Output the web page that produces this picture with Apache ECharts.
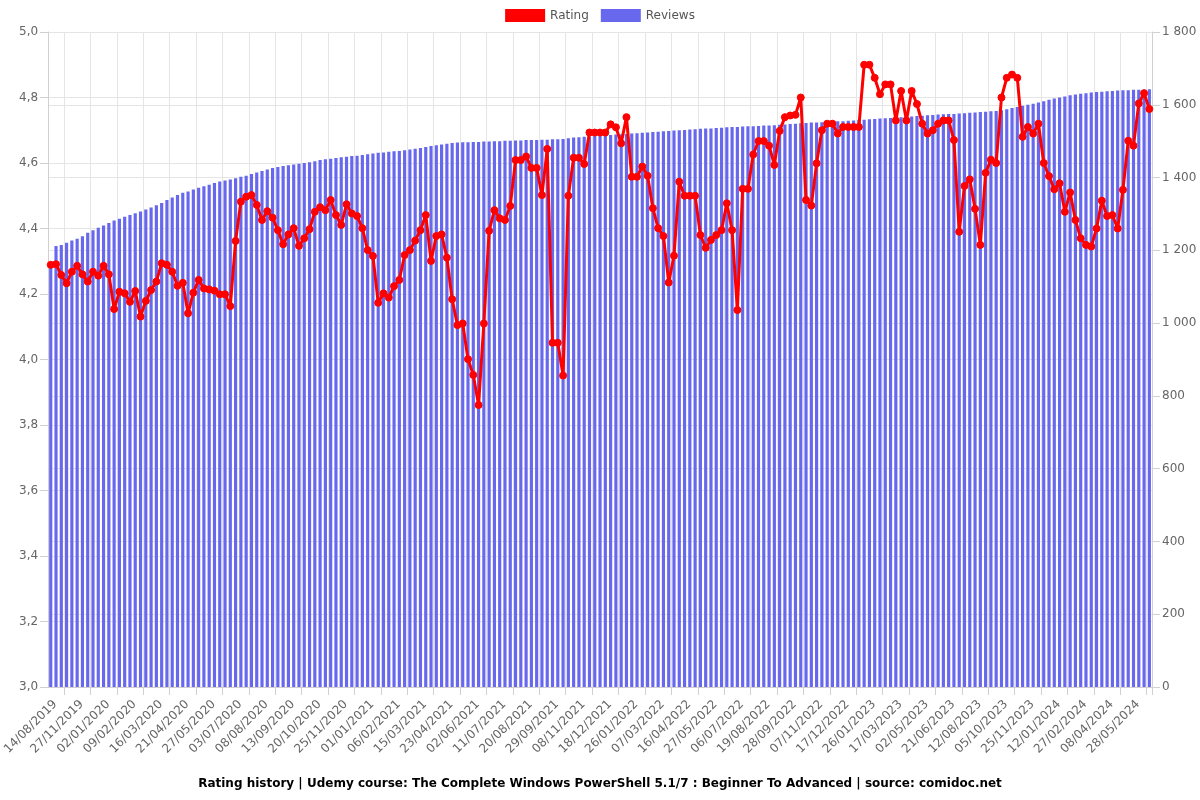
<!DOCTYPE html>
<html><head><meta charset="utf-8">
<script src="https://cdn.jsdelivr.net/npm/echarts@6/dist/echarts.min.js"></script>
<style>html,body{margin:0;padding:0;background:#fff}#c{width:1200px;height:800px}</style>
</head><body><div id="c"></div>
<script>
var dates = [
"24/07/2019","31/07/2019","07/08/2019","14/08/2019","04/09/2019","25/09/2019","16/10/2019","06/11/2019","27/11/2019",
"04/12/2019","11/12/2019","18/12/2019","25/12/2019","02/01/2020",
"09/01/2020","16/01/2020","23/01/2020","31/01/2020","09/02/2020",
"16/02/2020","23/02/2020","01/03/2020","08/03/2020","16/03/2020",
"23/03/2020","30/03/2020","06/04/2020","13/04/2020","21/04/2020",
"28/04/2020","05/05/2020","12/05/2020","19/05/2020","27/05/2020",
"03/06/2020","10/06/2020","17/06/2020","25/06/2020","03/07/2020",
"10/07/2020","17/07/2020","24/07/2020","31/07/2020","08/08/2020",
"15/08/2020","22/08/2020","29/08/2020","05/09/2020","13/09/2020",
"20/09/2020","27/09/2020","04/10/2020","12/10/2020","20/10/2020",
"27/10/2020","03/11/2020","10/11/2020","17/11/2020","25/11/2020",
"02/12/2020","09/12/2020","16/12/2020","24/12/2020","01/01/2021",
"08/01/2021","15/01/2021","22/01/2021","29/01/2021","06/02/2021",
"13/02/2021","20/02/2021","27/02/2021","06/03/2021","15/03/2021",
"22/03/2021","29/03/2021","06/04/2021","14/04/2021","23/04/2021",
"30/04/2021","08/05/2021","16/05/2021","24/05/2021","02/06/2021",
"09/06/2021","17/06/2021","25/06/2021","03/07/2021","11/07/2021",
"19/07/2021","27/07/2021","04/08/2021","12/08/2021","20/08/2021",
"28/08/2021","05/09/2021","13/09/2021","21/09/2021","29/09/2021",
"07/10/2021","15/10/2021","23/10/2021","31/10/2021","08/11/2021",
"16/11/2021","24/11/2021","02/12/2021","10/12/2021","18/12/2021",
"26/12/2021","02/01/2022","10/01/2022","18/01/2022","26/01/2022",
"03/02/2022","11/02/2022","19/02/2022","27/02/2022","07/03/2022",
"15/03/2022","23/03/2022","31/03/2022","08/04/2022","16/04/2022",
"24/04/2022","02/05/2022","10/05/2022","18/05/2022","27/05/2022",
"04/06/2022","12/06/2022","20/06/2022","28/06/2022","06/07/2022",
"15/07/2022","24/07/2022","02/08/2022","10/08/2022","19/08/2022",
"27/08/2022","04/09/2022","12/09/2022","20/09/2022","28/09/2022",
"06/10/2022","14/10/2022","22/10/2022","30/10/2022","07/11/2022",
"15/11/2022","23/11/2022","01/12/2022","09/12/2022","17/12/2022",
"25/12/2022","02/01/2023","10/01/2023","18/01/2023","26/01/2023",
"05/02/2023","15/02/2023","25/02/2023","07/03/2023","17/03/2023",
"26/03/2023","04/04/2023","14/04/2023","23/04/2023","02/05/2023",
"12/05/2023","22/05/2023","01/06/2023","11/06/2023","21/06/2023",
"01/07/2023","11/07/2023","22/07/2023","02/08/2023","12/08/2023",
"23/08/2023","03/09/2023","14/09/2023","24/09/2023","05/10/2023",
"15/10/2023","25/10/2023","04/11/2023","14/11/2023","25/11/2023",
"04/12/2023","14/12/2023","24/12/2023","03/01/2024","12/01/2024",
"21/01/2024","30/01/2024","08/02/2024","18/02/2024","27/02/2024",
"05/03/2024","13/03/2024","22/03/2024","30/03/2024","08/04/2024",
"17/04/2024","26/04/2024","06/05/2024","17/05/2024","28/05/2024"
];
var rating = [
4.289,4.291,4.258,4.233,4.268,4.286,4.260,4.238,4.268,4.256,
4.286,4.260,4.154,4.207,4.202,4.176,4.209,4.131,4.179,4.212,
4.238,4.294,4.289,4.268,4.225,4.234,4.141,4.204,4.243,4.217,
4.214,4.210,4.199,4.199,4.163,4.362,4.482,4.497,4.502,4.472,
4.426,4.453,4.433,4.395,4.352,4.382,4.401,4.347,4.370,4.398,
4.451,4.465,4.456,4.487,4.441,4.411,4.474,4.446,4.438,4.401,
4.334,4.316,4.173,4.202,4.189,4.224,4.243,4.319,4.334,4.363,
4.395,4.441,4.301,4.377,4.382,4.311,4.184,4.105,4.110,4.001,
3.953,3.861,4.110,4.393,4.456,4.431,4.426,4.469,4.609,4.609,
4.620,4.585,4.585,4.502,4.643,4.051,4.051,3.951,4.500,4.616,
4.616,4.597,4.693,4.693,4.693,4.693,4.718,4.709,4.660,4.740,
4.558,4.558,4.589,4.561,4.462,4.401,4.377,4.235,4.317,4.543,
4.500,4.500,4.500,4.380,4.341,4.365,4.380,4.395,4.477,4.395,
4.151,4.521,4.521,4.626,4.667,4.667,4.653,4.594,4.698,4.740,
4.745,4.747,4.800,4.487,4.470,4.599,4.700,4.720,4.720,4.690,
4.710,4.710,4.710,4.710,4.900,4.900,4.860,4.810,4.840,4.840,
4.730,4.820,4.730,4.820,4.780,4.720,4.690,4.700,4.720,4.730,
4.730,4.670,4.390,4.530,4.550,4.460,4.350,4.570,4.610,4.600,
4.800,4.860,4.870,4.860,4.680,4.710,4.690,4.720,4.600,4.560,
4.520,4.538,4.451,4.510,4.426,4.370,4.350,4.345,4.400,4.485,
4.438,4.441,4.400,4.518,4.668,4.653,4.782,4.813,4.765
];
var reviews = [
1160,1212,1215,1221,1227,1232,1239,1248,1255,1262,
1268,1275,1282,1287,1292,1297,1302,1307,1312,1318,
1324,1330,1338,1345,1352,1358,1362,1367,1372,1376,
1380,1385,1389,1392,1395,1398,1402,1405,1410,1414,
1418,1422,1426,1429,1432,1434,1436,1438,1440,1442,
1445,1448,1450,1452,1454,1456,1457,1459,1460,1462,
1464,1466,1468,1469,1471,1472,1473,1475,1477,1479,
1481,1484,1487,1489,1491,1493,1495,1496,1497,1497,
1498,1498,1499,1499,1500,1500,1501,1501,1502,1502,
1503,1503,1503,1504,1504,1505,1505,1506,1508,1510,
1511,1512,1513,1514,1515,1516,1517,1518,1519,1520,
1521,1522,1523,1524,1525,1526,1527,1528,1529,1530,
1531,1532,1533,1534,1535,1535,1536,1537,1538,1539,
1539,1540,1541,1541,1542,1543,1543,1544,1545,1546,
1547,1548,1549,1550,1551,1551,1552,1553,1554,1555,
1555,1556,1557,1558,1559,1560,1561,1562,1563,1564,
1565,1566,1567,1568,1569,1570,1571,1572,1573,1574,
1575,1575,1576,1577,1578,1579,1580,1581,1582,1583,
1585,1588,1591,1594,1597,1600,1603,1606,1610,1614,
1617,1620,1623,1626,1628,1630,1632,1634,1635,1636,
1637,1638,1639,1640,1640,1641,1641,1642,1643
];
var titleText = "Rating history | Udemy course: The Complete Windows PowerShell 5.1/7 : Beginner To Advanced | source: comidoc.net";
var labelEvery = function (i) { return i % 5 === 3; };
var FONT = "DejaVu Sans";
var gridColor = "#e5e5e5";
var chart = echarts.init(document.getElementById('c'), null, {renderer: 'canvas'});
chart.setOption({
  animation: false,
  backgroundColor: '#fff',
  textStyle: {fontFamily: FONT},
  title: {text: titleText, left: 'center', bottom: 5,
    textStyle: {fontFamily: FONT, fontSize: 12, fontWeight: 'bold', color: '#000'}},
  legend: {top: 4, left: 'center', itemWidth: 40, itemHeight: 13, itemGap: 12,
    textStyle: {fontFamily: FONT, fontSize: 12, color: '#555'},
    data: [{name: 'Rating', icon: 'rect'}, {name: 'Reviews', icon: 'rect'}]},
  grid: {left: 46, right: 48, top: 32, bottom: 113, containLabel: false},
  xAxis: {type: 'category', data: dates, boundaryGap: true,
    axisLine: {lineStyle: {color: '#d0d0d0'}},
    axisTick: {show: true, interval: labelEvery, length: 8, lineStyle: {color: '#d0d0d0'}},
    splitLine: {show: true, interval: labelEvery, lineStyle: {color: gridColor}},
    axisLabel: {interval: labelEvery, rotate: 45, color: '#666', fontFamily: FONT, fontSize: 12,
      margin: 4, padding: [0, 16, 0, 0]}},
  yAxis: [
    {type: 'value', min: 3, max: 5, interval: 0.2, position: 'left',
      axisLine: {show: true, lineStyle: {color: '#d0d0d0'}},
      axisTick: {show: true, length: 8, lineStyle: {color: '#d0d0d0'}},
      splitLine: {show: true, lineStyle: {color: gridColor}},
      axisLabel: {color: '#666', fontFamily: FONT, fontSize: 12, margin: 10,
        formatter: function (v) { return v.toFixed(1).replace('.', ','); }}},
    {type: 'value', min: 0, max: 1800, interval: 200, position: 'right',
      axisLine: {show: true, lineStyle: {color: '#d0d0d0'}},
      axisTick: {show: true, length: 8, lineStyle: {color: '#d0d0d0'}},
      splitLine: {show: true, lineStyle: {color: gridColor}},
      axisLabel: {color: '#666', fontFamily: FONT, fontSize: 12, margin: 10,
        formatter: function (v) { return v >= 1000 ? Math.floor(v / 1000) + ' ' + String(v % 1000).padStart(3, '0') : String(v); }}}
  ],
  series: [
    {name: 'Rating', type: 'line', yAxisIndex: 0, data: rating, z: 5,
      symbol: 'circle', symbolSize: 7, showSymbol: true, showAllSymbol: true,
      lineStyle: {color: '#ff0000', width: 3},
      itemStyle: {color: '#ff0000', borderColor: '#ff0000'}},
    {name: 'Reviews', type: 'bar', yAxisIndex: 1, data: reviews, z: 2,
      barWidth: '60%', itemStyle: {color: '#6868ee'}}
  ]
});
</script></body></html>
